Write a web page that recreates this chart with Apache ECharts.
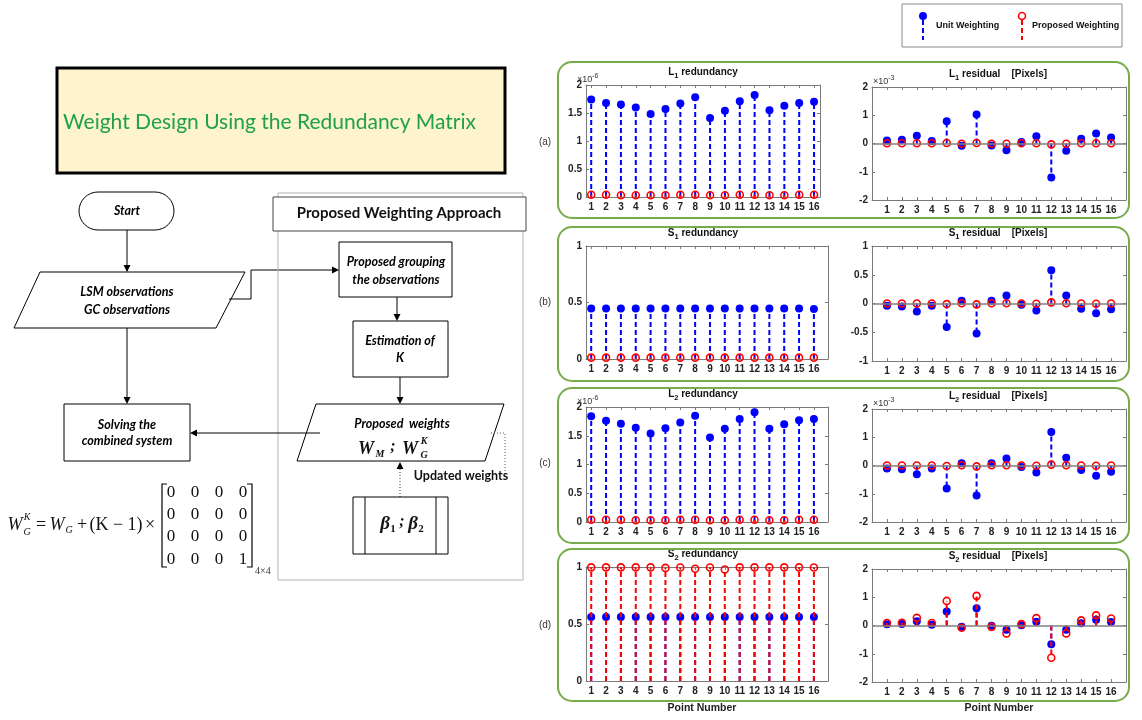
<!DOCTYPE html>
<html><head><meta charset="utf-8">
<script src="https://cdn.jsdelivr.net/npm/echarts@6/dist/echarts.min.js"></script>
<style>html,body{margin:0;padding:0;background:#fff}#c{width:1142px;height:720px}</style>
</head><body><div id="c"></div>
<script>
// ---------------- DATA ----------------
const pointNumbers = [1,2,3,4,5,6,7,8,9,10,11,12,13,14,15,16];
// L1 redundancy (x1e-6)
const l1RedundancyUnit     = [1.74,1.68,1.65,1.60,1.48,1.57,1.67,1.78,1.41,1.54,1.71,1.82,1.55,1.63,1.68,1.70];
const l1RedundancyProposed = [0.04,0.04,0.03,0.03,0.03,0.03,0.04,0.04,0.03,0.03,0.04,0.04,0.03,0.03,0.04,0.04];
// L1 residual (x1e-3)
const l1ResidualUnit       = [0.11,0.13,0.27,0.09,0.79,-0.08,1.03,-0.07,-0.24,0.05,0.26,-1.20,-0.26,0.17,0.35,0.21];
const l1ResidualProposed   = [0.01,0.01,0.01,0.01,0.02,-0.01,0.02,-0.01,-0.01,0.01,0.01,-0.03,-0.01,0.01,0.01,0.01];
// S1 redundancy
const s1RedundancyUnit     = [0.448,0.447,0.447,0.448,0.447,0.447,0.448,0.447,0.447,0.447,0.447,0.447,0.447,0.447,0.447,0.442];
const s1RedundancyProposed = [0.012,0.012,0.012,0.012,0.012,0.012,0.012,0.012,0.012,0.012,0.012,0.012,0.012,0.012,0.012,0.012];
// S1 residual
const s1ResidualUnit       = [-0.04,-0.05,-0.14,-0.04,-0.41,0.05,-0.52,0.05,0.14,-0.02,-0.12,0.58,0.14,-0.09,-0.17,-0.10];
const s1ResidualProposed   = [0.0,0.0,0.0,0.0,-0.01,0.005,-0.015,0.005,0.005,0.0,-0.005,0.02,0.005,0.0,-0.005,0.0];
// L2 redundancy (x1e-6)
const l2RedundancyUnit     = [1.84,1.76,1.71,1.64,1.54,1.63,1.73,1.85,1.47,1.62,1.79,1.91,1.62,1.70,1.77,1.79];
const l2RedundancyProposed = [0.04,0.04,0.04,0.03,0.03,0.03,0.04,0.04,0.03,0.03,0.04,0.04,0.03,0.03,0.04,0.04];
// L2 residual (x1e-3)
const l2ResidualUnit       = [-0.11,-0.13,-0.31,-0.11,-0.81,0.08,-1.06,0.08,0.25,-0.05,-0.25,1.19,0.27,-0.16,-0.36,-0.22];
const l2ResidualProposed   = [0.0,0.0,0.0,0.0,-0.02,0.01,-0.03,0.01,0.01,0.0,-0.01,0.03,0.01,0.0,-0.01,0.0];
// S2 redundancy
const s2RedundancyUnit     = [0.562,0.562,0.562,0.562,0.562,0.562,0.562,0.562,0.562,0.562,0.562,0.562,0.562,0.562,0.562,0.562];
const s2RedundancyProposed = [0.997,0.997,0.997,0.997,0.997,0.992,0.996,0.985,0.995,0.978,0.997,0.997,0.997,0.997,0.997,0.996];
// S2 residual
const s2ResidualUnit       = [0.04,0.05,0.15,0.03,0.50,-0.04,0.61,-0.01,-0.15,0.01,0.13,-0.66,-0.15,0.08,0.20,0.12];
const s2ResidualProposed   = [0.09,0.10,0.27,0.09,0.87,-0.08,1.05,-0.05,-0.28,0.05,0.26,-1.14,-0.28,0.18,0.36,0.25];

const legendNames = ['Unit Weighting','Proposed Weighting'];
const panelLetters = ['(a)','(b)','(c)','(d)'];

// ---------------- STYLE ----------------
const PF = '"Liberation Sans", Arial, sans-serif';
const CF = 'Lato, "Open Sans", sans-serif';
const SF = '"Liberation Serif", "DejaVu Serif", serif';
const AX = '#7a7a7a';
const BLUE = '#0000ff', RED = '#ff0000';

const panels = [
  {g:{left:586,top:85,width:234,height:112}, xr:[0.65,16.4], yr:[0,2,0.5], u:l1RedundancyUnit, p:l1RedundancyProposed, t:['L','1',' redundancy'], exp:'-6', base:false},
  {g:{left:872,top:87,width:254,height:113}, xr:[0,17], yr:[-2,2,1], u:l1ResidualUnit, p:l1ResidualProposed, t:['L','1',' residual    [Pixels]'], exp:'-3', base:true},
  {g:{left:586,top:246,width:242,height:113}, xr:[0.65,16.95], yr:[0,1,0.5], u:s1RedundancyUnit, p:s1RedundancyProposed, t:['S','1',' redundancy'], exp:null, base:false},
  {g:{left:872,top:246,width:254,height:115}, xr:[0,17], yr:[-1,1,0.5], u:s1ResidualUnit, p:s1ResidualProposed, t:['S','1',' residual    [Pixels]'], exp:null, base:true},
  {g:{left:586,top:407,width:242,height:115}, xr:[0.65,16.95], yr:[0,2,0.5], u:l2RedundancyUnit, p:l2RedundancyProposed, t:['L','2',' redundancy'], exp:'-6', base:false},
  {g:{left:872,top:409,width:254,height:113}, xr:[0,17], yr:[-2,2,1], u:l2ResidualUnit, p:l2ResidualProposed, t:['L','2',' residual    [Pixels]'], exp:'-3', base:true},
  {g:{left:586,top:567,width:242,height:114}, xr:[0.65,16.95], yr:[0,1,0.5], u:s2RedundancyUnit, p:s2RedundancyProposed, t:['S','2',' redundancy'], exp:null, base:false},
  {g:{left:872,top:569,width:254,height:113}, xr:[0,17], yr:[-2,2,1], u:s2ResidualUnit, p:s2ResidualProposed, t:['S','2',' residual    [Pixels]'], exp:null, base:true}
];

function stem(color, filled){
  return function(params, api){
    const x = api.value(0), y = api.value(1);
    const p0 = api.coord([x,0]), p1 = api.coord([x,y]);
    return {type:'group', children:[
      {type:'line', shape:{x1:p0[0],y1:p0[1],x2:p1[0],y2:p1[1]}, style:{stroke:color, lineWidth:2, lineDash:[5,3]}},
      {type:'circle', shape:{cx:p1[0],cy:p1[1],r:filled?4:3.5},
       style: filled ? {fill:color} : {fill:'none', stroke:color, lineWidth:1.6}}
    ]};
  };
}

const grids=[], xAxes=[], yAxes=[], series=[], gfx=[];
const tickLbl = {fontSize:10, fontWeight:'bold', color:'#222', fontFamily:PF};
panels.forEach((pn,i)=>{
  grids.push(Object.assign({containLabel:false}, pn.g));
  const xb = {gridIndex:i, type:'value', min:pn.xr[0], max:pn.xr[1],
    axisLine:{show:true,onZero:false,lineStyle:{color:AX,width:1}},
    axisTick:{show:true,inside:true,length:3,customValues:pointNumbers,lineStyle:{color:AX}},
    axisLabel:Object.assign({show:true,margin:5,customValues:pointNumbers}, tickLbl),
    splitLine:{show:false}};
  xAxes.push(xb);
  xAxes.push(Object.assign({}, xb, {position:'top', axisLabel:{show:false}}));
  const yl = {gridIndex:i, type:'value', min:pn.yr[0], max:pn.yr[1], interval:pn.yr[2],
    axisLine:{show:true,onZero:false,lineStyle:{color:AX,width:1}},
    axisTick:{show:true,inside:true,length:3,lineStyle:{color:AX}},
    axisLabel:Object.assign({show:true,margin:4}, tickLbl),
    splitLine:{show:false}};
  yAxes.push(yl);
  yAxes.push(Object.assign({}, yl, {position:'right', axisLabel:{show:false}}));
  const mk = d => pointNumbers.map((n,k)=>[n, d[k]]);
  const uS = {type:'custom', name:legendNames[0], xAxisIndex:2*i, yAxisIndex:2*i, renderItem:stem(BLUE,true),
    data:mk(pn.u), encode:{x:0,y:1}, animation:false, z:2};
  if (pn.base) uS.markLine = {silent:true, symbol:'none', animation:false, label:{show:false},
    lineStyle:{color:'#808080', width:1.5, type:'solid'}, data:[{yAxis:0}]};
  series.push(uS);
  series.push({type:'custom', name:legendNames[1], xAxisIndex:2*i, yAxisIndex:2*i, renderItem:stem(RED,false),
    data:mk(pn.p), encode:{x:0,y:1}, animation:false, z:3});
  // title
  const left = i%2===0;
  gfx.push({type:'text', x: left?703:998, y: pn.g.top-13, silent:true, style:{
    text:'{n|'+pn.t[0]+'}{s|'+pn.t[1]+'}{n|'+pn.t[2]+'}', align:'center', verticalAlign:'middle',
    textAlign:'center', textVerticalAlign:'middle',
    rich:{n:{fontSize:10,fontWeight:'bold',fontFamily:PF,fill:'#111',color:'#111',lineHeight:16,verticalAlign:'middle'},
          s:{fontSize:7.5,fontWeight:'bold',fontFamily:PF,fill:'#111',color:'#111',lineHeight:16,verticalAlign:'bottom'}}}});
  if (pn.exp){
    gfx.push({type:'text', x: left? pn.g.left-9 : pn.g.left+1, y: pn.g.top-5, silent:true, style:{
      text:'{n|×10}{s|'+pn.exp+'}', align:'left', verticalAlign:'middle', textAlign:'left', textVerticalAlign:'middle',
      rich:{n:{fontSize:9,fontFamily:PF,fill:'#333',color:'#333',lineHeight:14,verticalAlign:'middle'},
            s:{fontSize:7,fontFamily:PF,fill:'#333',color:'#333',lineHeight:14,verticalAlign:'top'}}}});
  }
});

// ---------------- GRAPHIC HELPERS ----------------
function T(x,y,text,o){ return {type:'text', x, y, silent:true, style:Object.assign({text, fill:'#000', align:'center', verticalAlign:'middle', textAlign:'center', textVerticalAlign:'middle', fontSize:12, fontFamily:CF}, o||{})}; }
function L(x1,y1,x2,y2,o){ return {type:'line', silent:true, shape:{x1,y1,x2,y2}, style:Object.assign({stroke:'#000', lineWidth:1}, o||{})}; }
function R(x,y,w,h,o,r){ return {type:'rect', silent:true, shape:{x,y,width:w,height:h,r:r||0}, style:Object.assign({fill:'#fff', stroke:'#000', lineWidth:1}, o||{})}; }
function P(points,o){ return {type:'polygon', silent:true, shape:{points}, style:Object.assign({fill:'#fff', stroke:'#000', lineWidth:1}, o||{})}; }
function PL(points,o){ return {type:'polyline', silent:true, shape:{points}, style:Object.assign({fill:null, stroke:'#000', lineWidth:1}, o||{})}; }
function AH(x,y,dir){
  const l=7,w=3.5; let pts;
  if(dir==='down') pts=[[x,y],[x-w,y-l],[x+w,y-l]];
  else if(dir==='up') pts=[[x,y],[x-w,y+l],[x+w,y+l]];
  else if(dir==='right') pts=[[x,y],[x-l,y-w],[x-l,y+w]];
  else pts=[[x,y],[x+l,y-w],[x+l,y+w]];
  return {type:'polygon', silent:true, shape:{points:pts}, style:{fill:'#000'}};
}
const BI = {fontWeight:'bold', fontStyle:'italic', fontSize:12.5, fontFamily:CF};

// green panel frames and letters
[[62,156],[227,154],[388,155],[549,152]].forEach((f,k)=>{
  gfx.push(R(558,f[0],571,f[1],{fill:null,stroke:'#77ab4c',lineWidth:2},14));
});
[142,302,463,625].forEach((y,k)=>gfx.push(T(545,y,panelLetters[k],{fontSize:10,fontFamily:PF,fill:'#333'})));
// Point Number labels
gfx.push(T(702,708,'Point Number',{fontSize:10.5,fontWeight:'bold',fontFamily:PF,fill:'#222'}));
gfx.push(T(999,708,'Point Number',{fontSize:10.5,fontWeight:'bold',fontFamily:PF,fill:'#222'}));

// legend
gfx.push(R(902,4,220,43,{fill:'#fff',stroke:'#8a8a8a',lineWidth:1}));
gfx.push(L(923,20,923,40,{stroke:BLUE,lineWidth:2,lineDash:[5,3]}));
gfx.push({type:'circle',silent:true,shape:{cx:923,cy:16,r:4},style:{fill:BLUE}});
gfx.push(T(936,26,legendNames[0],{align:'left',textAlign:'left',fontSize:9,fontWeight:'bold',fontFamily:PF,fill:'#111'}));
gfx.push(L(1022,20,1022,40,{stroke:RED,lineWidth:2,lineDash:[5,3]}));
gfx.push({type:'circle',silent:true,shape:{cx:1022,cy:16,r:3.5},style:{fill:'#fff',stroke:RED,lineWidth:1.6}});
gfx.push(T(1032,26,legendNames[1],{align:'left',textAlign:'left',fontSize:9,fontWeight:'bold',fontFamily:PF,fill:'#111'}));

// ---------------- FLOWCHART ----------------
gfx.push(R(57,68,448,105,{fill:'#fdf3cc',stroke:'#000',lineWidth:3}));
gfx.push(T(63,122,'Weight Design Using the Redundancy Matrix',{align:'left',textAlign:'left',fontSize:21,fontFamily:CF,fill:'#1fa049'}));

gfx.push(R(79,192,95,38,{},19));
gfx.push(T(127,211,'Start',BI));
gfx.push(L(127,230,127,271)); gfx.push(AH(127,272,'down'));

gfx.push(P([[40,272],[245,272],[216,328],[14,328]]));
gfx.push(T(127,292,'LSM observations',BI));
gfx.push(T(127,310,'GC observations',BI));
gfx.push(PL([[229,299],[251,299],[251,270],[332,270]])); gfx.push(AH(339,270,'right'));
gfx.push(L(127,328,127,398)); gfx.push(AH(127,404,'down'));

gfx.push(R(64,404,126,57));
gfx.push(T(127,425,'Solving the',BI));
gfx.push(T(127,441,'combined system',BI));

// proposed weighting approach frame
gfx.push(R(278,193,245,387,{fill:null,stroke:'#b5b5b5',lineWidth:1}));
gfx.push(R(273,197,253,34,{fill:'#fff',stroke:'#444',lineWidth:1}));
gfx.push(T(399,213,'Proposed Weighting Approach',{fontSize:15,fontWeight:'bold',fontFamily:CF,fill:'#111'}));

gfx.push(R(339,242,113,55));
gfx.push(T(396,262,'Proposed grouping',BI));
gfx.push(T(396,280,'the observations',BI));
gfx.push(L(397,297,397,315)); gfx.push(AH(397,321,'down'));

gfx.push(R(353,321,95,56));
gfx.push(T(400,341,'Estimation of',BI));
gfx.push(T(400,358,'K',BI));
gfx.push(L(400,377,400,398)); gfx.push(AH(400,404,'down'));

gfx.push(P([[316,404],[504,404],[485,461],[297,461]]));
gfx.push(T(402,424,'Proposed  weights',BI));
// W_M ; W_G^K
const WS = {fontFamily:SF, fontWeight:'bold', fontStyle:'italic', fill:'#111'};
gfx.push(T(366,449,'W',Object.assign({fontSize:18},WS)));
gfx.push(T(380,454,'M',Object.assign({fontSize:10},WS)));
gfx.push(T(393,447,';',Object.assign({fontSize:16},WS)));
gfx.push(T(410,449,'W',Object.assign({fontSize:18},WS)));
gfx.push(T(424,441,'K',Object.assign({fontSize:10},WS)));
gfx.push(T(424,455,'G',Object.assign({fontSize:10},WS)));
gfx.push(L(320,433,196,433)); gfx.push(AH(190,433,'left'));
gfx.push(PL([[491,433],[505,433],[505,480]],{stroke:'#555',lineDash:[1,2]}));
gfx.push(T(461,476,'Updated weights',{fontSize:12.5,fontWeight:'bold',fontFamily:CF,fill:'#111'}));
gfx.push(L(400,497,400,468,{stroke:'#333',lineDash:[1,2]})); gfx.push(AH(400,462,'up'));

gfx.push(R(353,497,95,57));
gfx.push(L(365,497,365,554)); gfx.push(L(436,497,436,554));
gfx.push(T(385,524,'β',Object.assign({fontSize:19},WS)));
gfx.push(T(393,529,'1',Object.assign({fontSize:11},WS,{fontStyle:'normal'})));
gfx.push(T(402,522,';',Object.assign({fontSize:16},WS)));
gfx.push(T(413,524,'β',Object.assign({fontSize:19},WS)));
gfx.push(T(421,529,'2',Object.assign({fontSize:11},WS,{fontStyle:'normal'})));

// formula
const FI = {fontFamily:SF, fontStyle:'italic', fontSize:18, fill:'#111'};
const FN = {fontFamily:SF, fontSize:18, fill:'#111'};
gfx.push(T(15,525,'W',FI));
gfx.push(T(27,517,'K',Object.assign({},FI,{fontSize:10})));
gfx.push(T(27,532,'G',Object.assign({},FI,{fontSize:10})));
gfx.push(T(41,525,'=',FN));
gfx.push(T(57,525,'W',FI));
gfx.push(T(69,530,'G',Object.assign({},FI,{fontSize:10})));
gfx.push(T(82,525,'+',FN));
gfx.push(T(116,525,'(K − 1)',FN));
gfx.push(T(150,525,'×',FN));
gfx.push(PL([[167,484],[162,484],[162,567],[167,567]],{lineWidth:1.2}));
gfx.push(PL([[247,484],[252,484],[252,567],[247,567]],{lineWidth:1.2}));
const matrixRows = [[0,0,0,0],[0,0,0,0],[0,0,0,0],[0,0,0,1]];
const rowsY=[493,515,537,560], colsX=[171,195,219,243];
matrixRows.forEach((row,r)=>row.forEach((v,c)=>gfx.push(T(colsX[c],rowsY[r],String(v),{fontFamily:SF,fontSize:17,fill:'#111'}))));
gfx.push(T(255,571,'4×4',{align:'left',textAlign:'left',fontFamily:SF,fontSize:10,fill:'#333'}));

const chart = echarts.init(document.getElementById('c'));
chart.setOption({
  animation:false,
  backgroundColor:'#fff',
  grid:grids, xAxis:xAxes, yAxis:yAxes, series:series,
  graphic:{elements:gfx}
});
</script></body></html>
